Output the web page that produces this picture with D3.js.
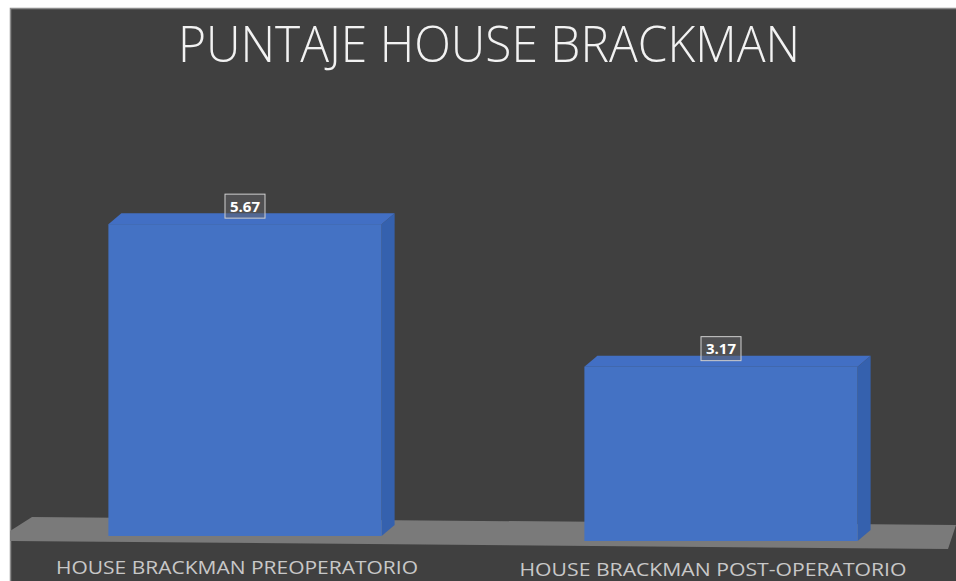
<!DOCTYPE html>
<html>
<head>
<meta charset="utf-8">
<script src="https://d3js.org/d3.v7.min.js"></script>
<style>
  html, body { margin: 0; padding: 0; background: #ffffff; overflow: hidden; }
  svg { display: block; }
</style>
</head>
<body>
<svg id="chart" width="956" height="581"></svg>
<script>
// ---- data ----
const title = "PUNTAJE HOUSE BRACKMAN";
const categories = ["HOUSE BRACKMAN PREOPERATORIO", "HOUSE BRACKMAN POST-OPERATORIO"];
const values = [5.67, 3.17];
const valueLabels = ["5.67", "3.17"];
const yDomain = [0, 6];

// ---- layout ----
const W = 956, H = 581;
const svg = d3.select("#chart");

const x = d3.scaleBand()
  .domain(categories)
  .range([7, 959])
  .paddingInner(0.426)
  .paddingOuter(0.213);

const yLen = d3.scaleLinear().domain(yDomain).range([0, 330]);
// perspective tilt of the floor line (bar baseline as a function of x)
const baseAt = d3.scaleLinear().domain([0, W]).range([533.4, 543.5]);

const depthX = 13, depthY = -11;

// background panel
svg.append("rect")
  .attr("x", 10).attr("y", 8)
  .attr("width", W - 10).attr("height", H - 8)
  .attr("fill", "#404040");
svg.append("path")
  .attr("d", `M10.5,${H} L10.5,8.5 L${W},8.5`)
  .attr("fill", "none")
  .attr("stroke", "#8c8c8c")
  .attr("stroke-width", 1.5);

// title
svg.append("text")
  .attr("x", 489).attr("y", 62)
  .attr("text-anchor", "middle")
  .attr("font-family", "'Open Sans', 'Noto Sans', sans-serif")
  .attr("font-weight", 300)
  .attr("font-size", 50)
  .attr("fill", "#f2f2f2")
  .attr("textLength", 622)
  .attr("lengthAdjust", "spacingAndGlyphs")
  .text(title);

// floor
const floorPts = [[32, 517], [956, 525], [948, 549], [10, 541], [10, 531]];
svg.append("polygon")
  .attr("points", floorPts.map(p => p.join(",")).join(" "))
  .attr("fill", "#7a7a7a");

// bars
const g = svg.append("g");
categories.forEach((c, i) => {
  const x0 = x(c), x1 = x(c) + x.bandwidth();
  const cx = x0 + x.bandwidth() / 2;
  const base = baseAt(cx);
  const top = base - yLen(values[i]);

  // side face
  g.append("polygon")
    .attr("points", [[x1, top], [x1 + depthX, top + depthY], [x1 + depthX, base + depthY], [x1, base]].map(p => p.join(",")).join(" "))
    .attr("fill", "#3561ae");
  // top face
  g.append("polygon")
    .attr("points", [[x0, top], [x0 + depthX, top + depthY], [x1 + depthX, top + depthY], [x1, top]].map(p => p.join(",")).join(" "))
    .attr("fill", "#426fc4");
  // front face
  g.append("rect")
    .attr("x", x0).attr("y", top)
    .attr("width", x.bandwidth()).attr("height", base - top)
    .attr("fill", "#4472c4");

  // value label box
  const bw = 40, bh = 24;
  g.append("rect")
    .attr("x", cx - bw / 2).attr("y", top - 6 - bh)
    .attr("width", bw).attr("height", bh)
    .attr("fill", "rgba(95,95,100,0.5)")
    .attr("stroke", "#d0d0d0")
    .attr("stroke-width", 1);
  g.append("text")
    .attr("x", cx).attr("y", top - 6 - bh / 2 + 5.5)
    .attr("text-anchor", "middle")
    .attr("font-family", "'Open Sans', 'Noto Sans', sans-serif")
    .attr("font-weight", 700)
    .attr("font-size", 15)
    .attr("fill", "#ffffff")
    .text(valueLabels[i]);

  // category label
  g.append("text")
    .attr("x", cx - 8).attr("y", i === 0 ? 574 : 576)
    .attr("text-anchor", "middle")
    .attr("font-family", "'Open Sans', 'Noto Sans', sans-serif")
    .attr("font-size", 19)
    .attr("fill", "#c8c8c8")
    .attr("textLength", i === 0 ? 362 : 387)
    .attr("lengthAdjust", "spacingAndGlyphs")
    .text(c);
});
</script>
</body>
</html>
